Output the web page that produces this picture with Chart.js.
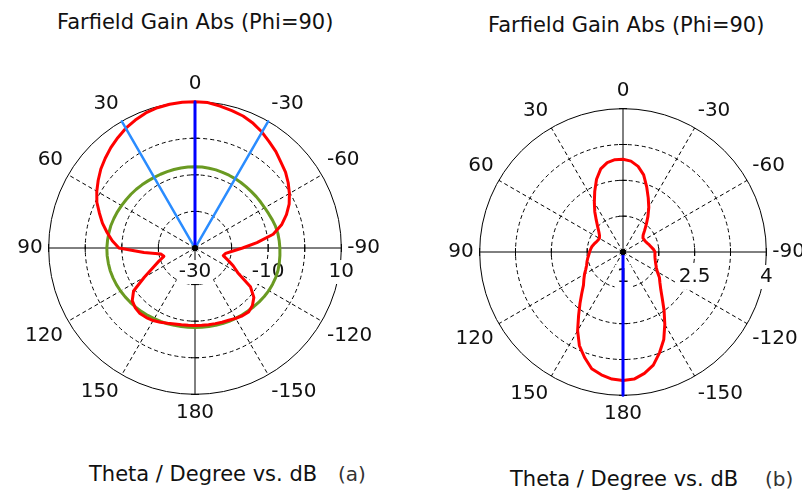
<!DOCTYPE html>
<html>
<head>
<meta charset="utf-8">
<title>Farfield Gain Abs (Phi=90)</title>
<script src="https://cdn.jsdelivr.net/npm/chart.js@4.4.1/dist/chart.umd.min.js"></script>
<style>
  body { margin: 0; width: 802px; height: 495px; overflow: hidden; background: #fff; position: relative; font-family: "DejaVu Sans", sans-serif; }
  canvas { position: absolute; top: 0; }
  #chartA { left: 0; }
  #chartB { left: 400px; }
  .caption { position: absolute; font-size: 21px; line-height: 24px; white-space: nowrap; color: #111; }
  .tag { position: absolute; font-size: 20px; line-height: 24px; white-space: nowrap; color: #333; }
</style>
</head>
<body>
<div class="caption" style="left:57px;top:10px">Farfield Gain Abs (Phi=90)</div>
<div class="caption" style="left:488px;top:13px">Farfield Gain Abs (Phi=90)</div>
<div class="caption" style="left:89px;top:462px">Theta / Degree vs. dB</div>
<div class="tag" style="left:338px;top:462px">(a)</div>
<div class="caption" style="left:510px;top:467px">Theta / Degree vs. dB</div>
<div class="tag" style="left:765px;top:467px">(b)</div>
<canvas id="chartA" width="400" height="495"></canvas>
<canvas id="chartB" width="420" height="495"></canvas>
<script>
// theta in degrees, clockwise from the top of the plot (CST style: positive to the left)
const thetaLabels = [
  0, -5, -10, -15, -20, -25, -30, -35, -40, -45, -50, -55, -60, -65, -70, -75, -80, -85,
  -90, -95, -100, -105, -110, -115, -120, -125, -130, -135, -140, -145, -150, -155, -160, -165, -170, -175,
  180, 175, 170, 165, 160, 155, 150, 145, 140, 135, 130, 125, 120, 115, 110, 105, 100, 95,
  90, 85, 80, 75, 70, 65, 60, 55, 50, 45, 40, 35, 30, 25, 20, 15, 10, 5
];

// (a) gain in dB
const gainA = [
  10, 9.9, 9.4, 8.9, 8.4, 7.6, 6.6, 5.4, 4.4, 3.2, 2.3, 1.1, -0.2, -1.6, -3.4, -5.5, -8.3, -13,
  -17, -19.8, -21.5, -22, -20.5, -18.5, -16.5, -11.5, -9.0, -7.8, -7.2, -7.4, -7.8, -8.2, -8.4, -8.6, -8.7, -8.8,
  -8.8, -8.8, -8.7, -8.5, -8.1, -7.6, -7.1, -6.8, -6.6, -6.9, -7.6, -9.5, -14, -17.3, -19.5, -21.2, -20.5, -16,
  -9.2, -7.3, -5.6, -3.8, -2.2, -0.4, 1.0, 2.3, 3.6, 4.7, 5.8, 6.8, 7.8, 8.6, 9.3, 9.7, 9.9, 10
];
const refA = [
  -7.8, -7.8, -7.85, -7.9, -8.0, -8.05, -8.1, -8.15, -8.2, -8.2, -8.15, -8.1, -8.0, -7.8, -7.5, -7.2, -7.0, -6.9,
  -6.8, -6.7, -6.6, -6.5, -6.5, -6.6, -6.7, -6.9, -7.1, -7.3, -7.5, -7.65, -7.8, -7.9, -8.0, -8.1, -8.2, -8.25,
  -8.3, -8.25, -8.2, -8.1, -7.95, -7.85, -7.7, -7.5, -7.3, -7.1, -6.9, -6.7, -6.5, -6.3, -6.15, -6.0, -5.95, -5.9,
  -5.9, -6.0, -6.1, -6.2, -6.4, -6.6, -6.8, -7.0, -7.15, -7.3, -7.45, -7.6, -7.7, -7.75, -7.8, -7.8, -7.8, -7.8
];
const mainBeamA = [0];
const sideBeamsA = [30, -30];
const rangeA = [-30, 10];
const tickLabelsA = [-30, -10, 10];

// (b) gain in dB
const gainB = [
  2.94, 2.91, 2.82, 2.67, 2.45, 2.25, 2.08, 1.91, 1.76, 1.64, 1.55, 1.51, 1.51, 1.52, 1.54, 1.57, 1.60, 1.64,
  1.67, 1.67, 1.68, 1.70, 1.73, 1.77, 1.83, 1.93, 2.01, 2.12, 2.28, 2.50, 2.75, 3.02, 3.24, 3.45, 3.58, 3.67,
  3.69, 3.67, 3.61, 3.53, 3.35, 3.16, 2.90, 2.62, 2.40, 2.22, 2.08, 2.00, 1.93, 1.86, 1.81, 1.78, 1.75, 1.72,
  1.70, 1.68, 1.66, 1.63, 1.60, 1.58, 1.57, 1.60, 1.66, 1.75, 1.87, 2.03, 2.20, 2.40, 2.62, 2.80, 2.90, 2.94
];
const mainBeamB = [180];
const rangeB = [1, 4];
const tickLabelsB = [1, 2.5, 4];

// a radial line from the centre out to the rim for each listed angle
function beamData(angles, lo, hi) {
  const n = thetaLabels.length;
  const d = thetaLabels.map(() => null);
  angles.forEach((a) => {
    const i = thetaLabels.indexOf(a);
    d[i] = hi;
    d[(i + 1) % n] = lo;
    d[(i - 1 + n) % n] = lo;
  });
  return d;
}

const axisDecor = {
  id: 'axisDecor',
  beforeDatasetsDraw(chart, args, opts) {
    const s = chart.scales.r;
    const ctx = chart.ctx;
    ctx.save();
    ctx.strokeStyle = '#000';
    ctx.lineWidth = 1;
    ctx.setLineDash([]);
    ctx.beginPath();
    s.ticks.forEach((t) => {
      const d = s.getDistanceFromCenterForValue(t.value);
      if (d <= 0) return;
      [1, -1].forEach((k) => {
        ctx.moveTo(s.xCenter + k * d, s.yCenter - 4);
        ctx.lineTo(s.xCenter + k * d, s.yCenter + 4);
        ctx.moveTo(s.xCenter - 4, s.yCenter + k * d);
        ctx.lineTo(s.xCenter + 4, s.yCenter + k * d);
      });
    });
    ctx.stroke();

    ctx.font = '20px "DejaVu Sans"';
    ctx.textAlign = 'center';
    ctx.textBaseline = 'middle';
    opts.values.forEach((v) => {
      const txt = String(v);
      const x = s.xCenter + s.getDistanceFromCenterForValue(v);
      const y = s.yCenter + opts.dy;
      const w = ctx.measureText(txt).width;
      ctx.fillStyle = '#fff';
      ctx.fillRect(x - w / 2 - 2, y - 12, w + 4, 24);
      ctx.fillStyle = '#111';
      ctx.fillText(txt, x, y);
    });
    ctx.restore();
  },
  afterDatasetsDraw(chart) {
    const s = chart.scales.r;
    const ctx = chart.ctx;
    ctx.save();
    ctx.fillStyle = '#000';
    ctx.beginPath();
    ctx.arc(s.xCenter, s.yCenter, 3, 0, Math.PI * 2);
    ctx.fill();
    ctx.restore();
  }
};

function polarOptions(range, step, padding, tickValues, tickDy) {
  return {
    responsive: false,
    animation: false,
    events: [],
    layout: { padding: padding },
    plugins: {
      legend: { display: false },
      tooltip: { enabled: false },
      axisDecor: { values: tickValues, dy: tickDy }
    },
    elements: {
      point: { radius: 0 },
      line: { tension: 0, borderJoinStyle: 'round', fill: false }
    },
    scales: {
      r: {
        min: range[0],
        max: range[1],
        ticks: { display: false, stepSize: step },
        grid: { circular: true, color: '#000', lineWidth: 1 },
        border: { dash: (ctx) => (ctx.index === 4 ? [] : [4, 3]) },
        angleLines: {
          color: '#000',
          lineWidth: (ctx) => (thetaLabels[ctx.index] % 30 === 0 ? 1 : 0),
          borderDash: (ctx) => (thetaLabels[ctx.index] % 90 === 0 ? [] : [4, 3])
        },
        pointLabels: {
          display: true,
          padding: 6,
          color: '#111',
          font: { family: 'DejaVu Sans', size: 20 },
          callback: (label) => (label % 30 === 0 ? String(label) : '')
        }
      }
    }
  };
}

new Chart(document.getElementById('chartA'), {
  type: 'radar',
  data: {
    labels: thetaLabels,
    datasets: [
      { data: beamData(mainBeamA, rangeA[0], rangeA[1]), borderColor: '#0000ff', borderWidth: 3, spanGaps: false },
      { data: beamData(sideBeamsA, rangeA[0], rangeA[1]), borderColor: '#2a8cff', borderWidth: 2.5, spanGaps: false },
      { data: gainA, borderColor: '#ff0000', borderWidth: 3 },
      { data: refA, borderColor: '#6a9a22', borderWidth: 3 }
    ]
  },
  options: polarOptions(rangeA, 10, { left: 14, right: 16, top: 63, bottom: 62 }, tickLabelsA, 24),
  plugins: [axisDecor]
});

new Chart(document.getElementById('chartB'), {
  type: 'radar',
  data: {
    labels: thetaLabels,
    datasets: [
      { data: beamData(mainBeamB, rangeB[0], rangeB[1]), borderColor: '#0000ff', borderWidth: 3, spanGaps: false },
      { data: gainB, borderColor: '#ff0000', borderWidth: 3 }
    ]
  },
  options: polarOptions(rangeB, 0.75, { left: 45, right: 11, top: 70, bottom: 61 }, tickLabelsB, 25),
  plugins: [axisDecor]
});
</script>
</body>
</html>
